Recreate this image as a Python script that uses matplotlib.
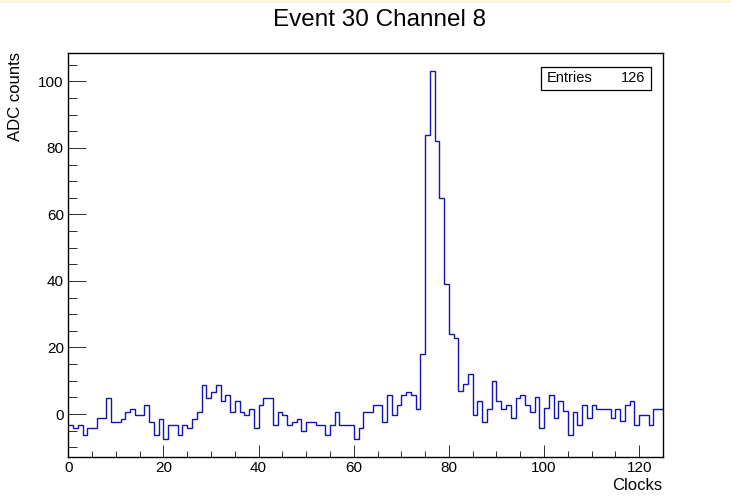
import numpy as np
import matplotlib
matplotlib.use("Agg")
import matplotlib.pyplot as plt
from matplotlib.patches import Rectangle
from matplotlib.ticker import MultipleLocator

plt.rcParams['font.family'] = ['Liberation Sans', 'DejaVu Sans']

# ADC samples of event 30, channel 8 (one value per clock)
adc_counts = [
    -3.2, -4.2, -3.2, -6.4, -4.2, -4.2, -1.2, -1.2, 4.8, -2.4,
    -2.4, -1.4, 0.6, 1.6, -0.3, -0.3, 2.8, -2.4, -6.4, -1.4,
    -7.4, -3.2, -3.2, -6.4, -3.2, -4.2, -1.4, 0.6, 8.6, 4.8,
    6.6, 8.6, 3.8, 5.6, 0.6, 3.8, 0.6, -0.2, 1.6, -4.2,
    2.8, 4.8, 4.8, -3.2, 0.6, -0.2, -3.2, -2.4, -1.4, -5.2,
    -2.4, -2.4, -3.2, -3.2, -6.4, -3.2, 0.6, -3.2, -3.2, -3.2,
    -7.4, -4.2, 0.6, 0.6, 2.8, 2.8, -2.4, 5.6, -0.4, 2.8,
    5.6, 6.6, 5.6, 1.6, 18.0, 84.0, 103.0, 82.0, 65.0, 39.0,
    24.0, 23.0, 7.0, 9.0, 12.0, -0.2, 3.8, -2.4, 1.6, 9.8,
    3.8, 1.6, 2.8, -1.2, 4.8, 5.6, 2.8, 0.6, 5.0, -4.2,
    1.8, 5.6, -1.2, 3.8, 1.0, -6.4, 0.6, -3.2, 2.8, -1.2,
    2.8, 1.6, 1.6, 1.6, -1.2, 1.6, -2.2, 2.8, 3.8, -3.2,
    -0.2, -0.2, -3.2, 1.6, 1.6,
]
clock_edges = np.arange(len(adc_counts) + 1)
n_entries = 126

title = "Event 30 Channel 8"
x_title = "Clocks"
y_title = "ADC counts"

W, H = 731, 501
fig = plt.figure(figsize=(W / 100, H / 100), dpi=100)
fig.patch.set_facecolor("white")

# thin pale band along the top edge of the canvas
fig.patches.append(Rectangle((0, 1 - 3 / H), 1, 3 / H, transform=fig.transFigure,
                             facecolor="#fcf5dc", edgecolor="none", zorder=0))

# frame in pixel coordinates
left, right, top, bottom = 68.3, 663.0, 53.0, 457.0
ax = fig.add_axes([left / W, 1 - bottom / H, (right - left) / W, (bottom - top) / H])

ax.stairs(adc_counts, clock_edges, baseline=None, color="#1414b4", linewidth=1.0)

ymin, ymax = min(adc_counts), max(adc_counts)
margin = 0.05 * (ymax - ymin)
ax.set_xlim(clock_edges[0], clock_edges[-1])
ax.set_ylim(ymin - margin, ymax + margin)

ax.xaxis.set_major_locator(MultipleLocator(20))
ax.xaxis.set_minor_locator(MultipleLocator(5))
ax.yaxis.set_major_locator(MultipleLocator(20))
ax.yaxis.set_minor_locator(MultipleLocator(5))

px = 0.72  # points per pixel at 100 dpi
ax.tick_params(axis="y", which="major", direction="in", length=17.8 * px, width=1.0 * px,
               color="#333333", labelsize=11, pad=4.5 * px, right=False)
ax.tick_params(axis="y", which="minor", direction="in", length=8.9 * px, width=1.0 * px,
               color="#333333", right=False)
ax.tick_params(axis="x", which="major", direction="in", length=12 * px, width=1.0 * px,
               color="#333333", labelsize=11, pad=4 * px, top=False)
ax.tick_params(axis="x", which="minor", direction="in", length=6 * px, width=1.0 * px,
               color="#333333", top=False)

for s in ax.spines.values():
    s.set_linewidth(1.0)
    s.set_color("black")

# titles
fig.text(379.5 / W, 1 - 20 / H, title, ha="center", va="center", fontsize=17.5)
fig.text(662 / W, 1 - 486 / H, x_title, ha="right", va="center", fontsize=12)
fig.text(16 / W, 1 - 52 / H, y_title, ha="center", va="top", rotation=90, fontsize=12)

# statistics box
bx0, by0, bx1, by1 = 541, 67, 651, 90
fig.patches.append(Rectangle((bx0 / W, 1 - by1 / H), (bx1 - bx0) / W, (by1 - by0) / H,
                             transform=fig.transFigure, facecolor="white",
                             edgecolor="black", linewidth=0.9, zorder=5))
ymid = 1 - (by0 + by1) / 2 / H
fig.text(547 / W, ymid, "Entries", ha="left", va="center", fontsize=10.5, zorder=6)
fig.text(645 / W, ymid, f"{n_entries}", ha="right", va="center", fontsize=10.5, zorder=6)

fig.savefig("out.png", dpi=100)
